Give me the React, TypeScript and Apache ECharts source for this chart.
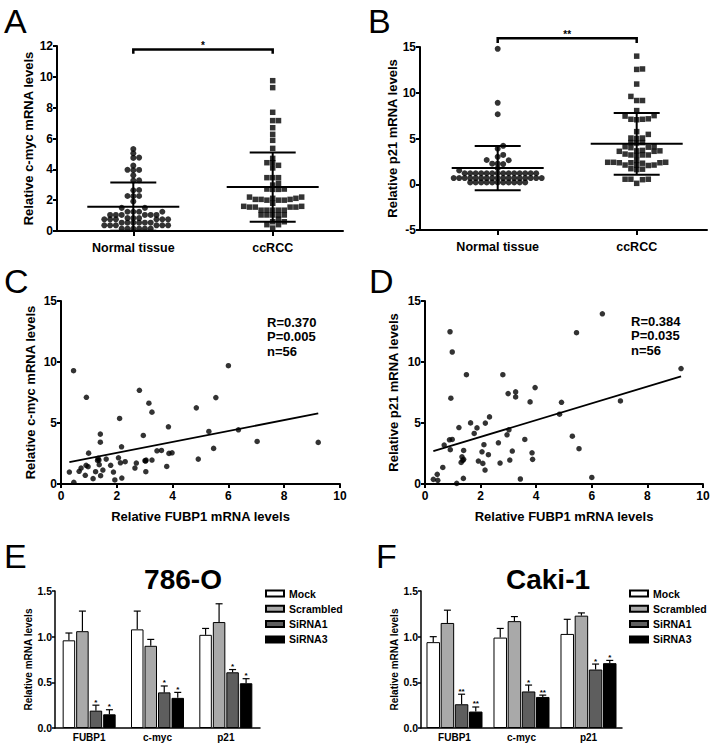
import React, { useEffect, useRef } from "react";
import * as echarts from "echarts";

const FONT = "'Liberation Sans', Arial, Helvetica, sans-serif";

// ---------- Panels A / B : scatter dot plots ----------
const groupNames = ["Normal tissue", "ccRCC"];

const cmycNormal = [5.32, 5.04, 4.76, 4.74, 4.24, 3.96, 3.94, 3.97, 3.61, 3.29, 3.27, 2.66, 2.64, 2.27, 2.27, 2.26, 1.92, 1.5, 1.5, 1.25, 1.25, 1.25, 1.25, 1.04, 1.04, 1.04, 1.04, 1.04, 1.04, 0.84, 0.84, 0.84, 0.76, 0.76, 0.76, 0.76, 0.76, 0.76, 0.54, 0.54, 0.54, 0.54, 0.54, 0.54, 0.37, 0.37, 0.37, 0.37, 0.37, 0.37, 0.15, 0.15, 0.15, 0.15, 0.15, 0.15];
const cmycCcrcc = [9.75, 9.3, 7.7, 7.16, 7.16, 6.7, 6.27, 5.88, 5.36, 4.71, 4.43, 4.43, 4.26, 4.09, 3.46, 3.46, 3.46, 3.09, 2.98, 2.72, 2.7, 2.7, 2.72, 2.2, 2.12, 2.05, 2.0, 2.0, 2.0, 2.05, 2.05, 2.12, 2.2, 1.6, 1.55, 1.55, 1.6, 1.55, 1.55, 1.35, 1.35, 1.35, 1.35, 1.35, 1.04, 1.04, 1.04, 1.04, 1.04, 0.76, 0.6, 0.6, 0.41, 0.41, 0.19, 1.8];
const cmycMean = [1.58, 2.85];
const cmycSD = [1.56, 2.25];
const cmycSig = "*";

const p21Normal = [14.8, 8.9, 7.65, 4.2, 3.88, 3.2, 3.0, 2.65, 2.62, 2.25, 2.25, 2.2, 1.75, 1.5, 1.2, 1.2, 1.2, 1.2, 1.2, 1.2, 1.2, 1.2, 1.2, 1.2, 1.2, 1.2, 1.2, 1.2, 0.68, 0.68, 0.68, 0.68, 0.68, 0.68, 0.68, 0.68, 0.68, 0.68, 0.68, 0.68, 0.68, 0.68, 0.68, 0.68, 0.68, 0.2, 0.2, 0.2, 0.2, 0.2, 0.2, 0.2, 0.2, 0.2, 0.2, 0.2];
const p21Ccrcc = [14.0, 12.6, 12.55, 10.95, 9.6, 9.15, 9.15, 8.05, 7.5, 7.45, 7.1, 7.05, 7.1, 7.15, 5.75, 5.45, 5.05, 5.0, 5.05, 4.55, 4.5, 4.55, 4.1, 4.0, 4.1, 4.05, 3.65, 3.6, 3.6, 3.65, 3.7, 3.2, 3.2, 3.15, 3.2, 3.3, 2.6, 2.4, 2.35, 2.35, 2.3, 2.35, 2.4, 2.4, 2.1, 2.05, 2.1, 2.1, 1.7, 1.65, 1.6, 0.55, 0.5, 0.1, 0.55, 0.55];
const p21Mean = [1.77, 4.42];
const p21SD = [2.42, 3.37];
const p21Sig = "**";

// ---------- Panels C / D : correlations ----------
const fubp1C = [0.30, 0.46, 0.45, 0.65, 0.72, 0.87, 0.91, 0.90, 0.97, 0.99, 1.15, 1.24, 1.31, 1.36, 1.37, 1.42, 1.41, 1.41, 1.50, 1.62, 1.78, 1.88, 1.93, 2.06, 2.10, 2.13, 2.17, 2.18, 2.30, 2.65, 2.70, 2.81, 2.95, 3.01, 3.05, 3.04, 3.15, 3.26, 3.26, 3.44, 3.60, 3.79, 3.85, 3.87, 3.98, 4.85, 4.92, 5.30, 5.47, 5.55, 6.00, 6.36, 7.03, 9.22, 1.33, 3.03];
const cmycC = [0.98, 0.14, 9.29, 1.04, 1.31, 0.71, 7.11, 1.53, 1.42, 2.53, 0.44, 1.01, 1.93, 1.96, 1.58, 0.68, 4.09, 3.43, 1.14, 2.04, 1.53, 0.98, 0.33, 2.15, 5.37, 1.74, 3.05, 0.49, 1.83, 1.31, 1.72, 7.68, 3.98, 1.91, 1.96, 1.01, 6.62, 5.89, 1.96, 2.72, 2.75, 1.44, 4.69, 2.51, 2.56, 6.24, 2.04, 4.31, 2.92, 7.08, 9.70, 4.44, 3.49, 3.41, 2.10, 1.88];
const fitCSlope = 0.449;
const fitCIntercept = 1.65;
const statsC = ["R=0.370", "P=0.005", "n=56"];

const fubp1D = [0.30, 0.44, 0.46, 0.64, 0.69, 0.88, 0.98, 0.91, 0.90, 0.98, 0.93, 1.14, 1.22, 1.30, 1.33, 1.36, 1.39, 1.39, 1.38, 1.49, 1.64, 1.77, 1.87, 1.92, 2.05, 2.08, 2.12, 2.17, 2.16, 2.28, 2.32, 2.64, 2.70, 2.80, 2.95, 2.99, 3.02, 3.05, 3.14, 3.26, 3.26, 3.43, 3.59, 3.78, 3.85, 3.87, 3.96, 4.84, 4.91, 5.30, 5.45, 5.54, 6.00, 6.38, 7.03, 9.21];
const p21D = [0.38, 0.79, 0.30, 1.36, 3.19, 3.62, 3.65, 2.81, 12.48, 10.82, 7.03, 0.05, 4.63, 1.77, 2.23, 1.93, 2.75, 2.02, 0.46, 8.96, 5.01, 4.14, 4.60, 1.88, 2.64, 1.69, 3.22, 4.99, 1.14, 2.40, 5.50, 3.38, 1.72, 8.96, 4.03, 7.41, 4.44, 1.96, 2.70, 7.55, 7.14, 0.41, 3.65, 6.73, 2.56, 2.02, 7.90, 5.72, 6.70, 3.92, 12.40, 2.89, 0.54, 13.95, 6.81, 9.46];
const fitDSlope = 0.6875;
const fitDIntercept = 2.49;
const statsD = ["R=0.384", "P=0.035", "n=56"];

// ---------- Panels E / F : bar charts ----------
const barCategories = ["FUBP1", "c-myc", "p21"];
const barGroups = ["Mock", "Scrambled", "SiRNA1", "SiRNA3"];

const e786Mock = [0.96, 1.08, 1.02];
const e786Scrambled = [1.06, 0.90, 1.16];
const e786SiRNA1 = [0.19, 0.39, 0.61];
const e786SiRNA3 = [0.15, 0.33, 0.49];
const e786MockSD = [0.08, 0.20, 0.07];
const e786ScrambledSD = [0.22, 0.07, 0.20];
const e786SiRNA1SD = [0.06, 0.07, 0.03];
const e786SiRNA3SD = [0.05, 0.06, 0.05];
const e786Stars = [["", "", ""], ["", "", ""], ["*", "*", "*"], ["*", "*", "*"]];

const cakiMock = [0.94, 0.99, 1.03];
const cakiScrambled = [1.15, 1.17, 1.23];
const cakiSiRNA1 = [0.26, 0.40, 0.64];
const cakiSiRNA3 = [0.18, 0.34, 0.71];
const cakiMockSD = [0.06, 0.10, 0.16];
const cakiScrambledSD = [0.14, 0.05, 0.03];
const cakiSiRNA1SD = [0.11, 0.07, 0.06];
const cakiSiRNA3SD = [0.05, 0.02, 0.03];
const cakiStars = [["", "", ""], ["", "", ""], ["**", "*", "*"], ["**", "**", "*"]];

const barColors = ["#ffffff", "#a9a9a9", "#5e5e5e", "#000000"];

// ---------- helpers ----------
function swarm(values: number[], center: number, pxX: number, pxY: number, step: number, rowH: number) {
  const order = values.map((_, i) => i).sort((a, b) => values[a] - values[b]);
  const placed: { x: number; y: number }[] = [];
  const out: number[][] = new Array(values.length);
  for (const i of order) {
    const y = values[i] * pxY;
    let off = 0;
    for (let k = 0; k < 400; k++) {
      const cand = k === 0 ? 0 : (k % 2 === 1 ? 1 : -1) * Math.ceil(k / 2) * (step / 2);
      const clash = placed.some((p) => Math.abs(p.y - y) < rowH && Math.abs(p.x - cand) < step - 0.01);
      if (!clash) {
        off = cand;
        break;
      }
    }
    placed.push({ x: off, y });
    out[i] = [center + off / pxX, values[i]];
  }
  return out;
}

function axis(o: any) {
  const lw = o.lineW || 2;
  return {
    gridIndex: o.grid,
    type: o.type || "value",
    min: o.min,
    max: o.max,
    interval: o.interval,
    data: o.data,
    name: o.name,
    nameLocation: "middle",
    nameGap: o.nameGap,
    nameRotate: o.nameRotate,
    nameTextStyle: { color: "#000", fontWeight: "bold", fontSize: o.nameSize || 13, fontFamily: FONT },
    axisLine: { show: true, onZero: false, lineStyle: { color: "#000", width: lw } },
    axisTick: {
      show: o.tick !== false,
      length: o.tickLen || 4,
      alignWithLabel: true,
      customValues: o.custom,
      lineStyle: { color: "#000", width: lw },
    },
    axisLabel: {
      show: true,
      color: "#000",
      fontWeight: "bold",
      fontSize: o.labelSize || 12,
      fontFamily: FONT,
      margin: o.margin ?? 5,
      customValues: o.custom,
      formatter: o.formatter,
    },
    splitLine: { show: false },
  };
}

function meanSdSeries(ax: number, means: number[], sds: number[]) {
  return {
    type: "custom",
    xAxisIndex: ax,
    yAxisIndex: ax,
    z: 4,
    clip: false,
    silent: true,
    data: means.map((m, i) => [i + 1, m, sds[i]]),
    renderItem: (_p: any, api: any) => {
      const x = api.value(0), m = api.value(1), s = api.value(2);
      const c = api.coord([x, m]), t = api.coord([x, m + s]), b = api.coord([x, m - s]);
      const st = { stroke: "#000", lineWidth: 2 };
      return {
        type: "group",
        children: [
          { type: "line", shape: { x1: c[0] - 46, y1: c[1], x2: c[0] + 46, y2: c[1] }, style: st },
          { type: "line", shape: { x1: t[0] - 23, y1: t[1], x2: t[0] + 23, y2: t[1] }, style: st },
          { type: "line", shape: { x1: b[0] - 23, y1: b[1], x2: b[0] + 23, y2: b[1] }, style: st },
          { type: "line", shape: { x1: t[0], y1: t[1], x2: b[0], y2: b[1] }, style: st },
        ],
      };
    },
  };
}

function bracketSeries(ax: number, top: number, tick: number, sig: string) {
  return {
    type: "custom",
    xAxisIndex: ax,
    yAxisIndex: ax,
    z: 4,
    clip: false,
    silent: true,
    data: [[1, top, tick]],
    renderItem: (_p: any, api: any) => {
      const a = api.coord([1, api.value(1)]);
      const b = api.coord([2, api.value(1)]);
      const t = api.coord([1, api.value(2)]);
      return {
        type: "group",
        children: [
          {
            type: "polyline",
            shape: { points: [[a[0], t[1]], [a[0], a[1]], [b[0], b[1]], [b[0], t[1]]] },
            style: { stroke: "#000", lineWidth: 2.5, fill: null },
          },
          {
            type: "text",
            x: (a[0] + b[0]) / 2,
            y: a[1] + 1,
            style: { text: sig, textAlign: "center", textVerticalAlign: "bottom", font: `bold 10px ${FONT}`, fill: "#000" },
          },
        ],
      };
    },
  };
}

function fitLine(ax: number, xs: number[], slope: number, intercept: number) {
  const x0 = Math.min(...xs), x1 = Math.max(...xs);
  return {
    type: "line",
    xAxisIndex: ax,
    yAxisIndex: ax,
    data: [[x0, intercept + slope * x0], [x1, intercept + slope * x1]],
    symbol: "none",
    showSymbol: false,
    silent: true,
    z: 3,
    lineStyle: { color: "#000", width: 1.8 },
  };
}

function corrScatter(ax: number, xs: number[], ys: number[]) {
  return {
    type: "scatter",
    xAxisIndex: ax,
    yAxisIndex: ax,
    symbol: "circle",
    symbolSize: 5.5,
    silent: true,
    itemStyle: { color: "#000" },
    data: xs.map((x, i) => [x, ys[i]]),
  };
}

function barSeries(ax: number, values: number[][], barWidth: number, barGap: string) {
  return values.map((vals, g) => ({
    type: "bar",
    name: barGroups[g],
    xAxisIndex: ax,
    yAxisIndex: ax,
    data: vals,
    barWidth,
    barGap,
    silent: true,
    itemStyle: { color: barColors[g], borderColor: "#000", borderWidth: 1 },
  }));
}

function errorSeries(ax: number, means: number[][], sds: number[][], stars: string[][], pitch: number) {
  const data: number[][] = [];
  const labels: string[] = [];
  means.forEach((arr, g) =>
    arr.forEach((m, c) => {
      data.push([c, m, sds[g][c], g]);
      labels.push(stars[g][c]);
    })
  );
  return {
    type: "custom",
    xAxisIndex: ax,
    yAxisIndex: ax,
    z: 5,
    clip: false,
    silent: true,
    data,
    renderItem: (params: any, api: any) => {
      const c = api.value(0), m = api.value(1), s = api.value(2), g = api.value(3);
      const off = (g - 1.5) * pitch;
      const b = api.coord([c, m]);
      const t = api.coord([c, m + s]);
      const x = b[0] + off;
      const st = { stroke: "#000", lineWidth: 1.2 };
      const children: any[] = [
        { type: "line", shape: { x1: x, y1: b[1], x2: x, y2: t[1] }, style: st },
        { type: "line", shape: { x1: x - 3.5, y1: t[1], x2: x + 3.5, y2: t[1] }, style: st },
      ];
      const lab = labels[params.dataIndex];
      if (lab) {
        children.push({
          type: "text",
          x,
          y: t[1] + 1,
          style: { text: lab, textAlign: "center", textVerticalAlign: "bottom", font: `bold 8px ${FONT}`, fill: "#000" },
        });
      }
      return { type: "group", children };
    },
  };
}

function txt(text: string, x: number, y: number, font: string, align = "left") {
  return {
    type: "text",
    x,
    y,
    silent: true,
    style: { text, font, fill: "#000", textAlign: align, textVerticalAlign: "middle" },
  };
}

export default function App() {
  const ref = useRef<HTMLDivElement>(null);

  useEffect(() => {
    if (!ref.current) return;
    const chart = echarts.init(ref.current, undefined, { renderer: "svg" });

    // geometry of A / B group axes
    const aMin = 0.4527, aMax = 2.5043, aW = 286, aH = 185;
    const bMin = 0.441, bMax = 2.5058, bW = 287, bH = 183;
    const aPxX = aW / (aMax - aMin), aPxY = aH / 12;
    const bPxX = bW / (bMax - bMin), bPxY = bH / 20;
    const catFmt = (v: number) => groupNames[Math.round(v) - 1] || "";

    const e786Vals = [e786Mock, e786Scrambled, e786SiRNA1, e786SiRNA3];
    const e786SDs = [e786MockSD, e786ScrambledSD, e786SiRNA1SD, e786SiRNA3SD];
    const cakiVals = [cakiMock, cakiScrambled, cakiSiRNA1, cakiSiRNA3];
    const cakiSDs = [cakiMockSD, cakiScrambledSD, cakiSiRNA1SD, cakiSiRNA3SD];

    const legendBase = {
      orient: "vertical",
      itemWidth: 18,
      itemHeight: 6,
      itemGap: 4.3,
      padding: 0,
      selectedMode: false,
      icon: "rect",
      data: barGroups,
      textStyle: { fontSize: 10.5, fontWeight: "bold", fontFamily: FONT, color: "#000" },
    };

    const option: any = {
      animation: false,
      backgroundColor: "#fff",
      textStyle: { fontFamily: FONT },
      grid: [
        { left: 57, top: 46, width: aW, height: aH },
        { left: 420, top: 47, width: bW, height: bH },
        { left: 61, top: 301, width: 279, height: 183 },
        { left: 425, top: 301, width: 278, height: 183 },
        { left: 55, top: 591, width: 205, height: 137 },
        { left: 421, top: 591, width: 201, height: 137 },
      ],
      xAxis: [
        axis({ grid: 0, min: aMin, max: aMax, custom: [1, 2], formatter: catFmt, tickLen: 5, margin: 10, labelSize: 12.5 }),
        axis({ grid: 1, min: bMin, max: bMax, custom: [1, 2], formatter: catFmt, tickLen: 5, margin: 10, labelSize: 12.5 }),
        axis({ grid: 2, min: 0, max: 10, interval: 2, name: "Relative FUBP1 mRNA levels", nameGap: 26, margin: 6 }),
        axis({ grid: 3, min: 0, max: 10, interval: 2, name: "Relative FUBP1 mRNA levels", nameGap: 26, margin: 6 }),
        axis({ grid: 4, type: "category", data: barCategories, tick: false, lineW: 1.5, labelSize: 10, margin: 4 }),
        axis({ grid: 5, type: "category", data: barCategories, tick: false, lineW: 1.5, labelSize: 10, margin: 4 }),
      ],
      yAxis: [
        axis({ grid: 0, min: 0, max: 12, interval: 2, name: "Relative c-myc mRNA levels", nameGap: 22, nameRotate: 90, margin: 4 }),
        axis({ grid: 1, min: -5, max: 15, interval: 5, name: "Relative p21 mRNA levels", nameGap: 21, nameRotate: 90, margin: 4 }),
        axis({ grid: 2, min: 0, max: 15, interval: 5, name: "Relative c-myc mRNA levels", nameGap: 24, nameRotate: 90, margin: 4 }),
        axis({ grid: 3, min: 0, max: 15, interval: 5, name: "Relative p21 mRNA levels", nameGap: 25, nameRotate: 90, margin: 4 }),
        axis({ grid: 4, min: 0, max: 1.5, interval: 0.5, name: "Relative mRNA levels", nameGap: 21, nameRotate: 90, nameSize: 10, lineW: 1.5, tickLen: 3, labelSize: 10.5, margin: 3, formatter: (v: number) => v.toFixed(1) }),
        axis({ grid: 5, min: 0, max: 1.5, interval: 0.5, name: "Relative mRNA levels", nameGap: 21, nameRotate: 90, nameSize: 10, lineW: 1.5, tickLen: 3, labelSize: 10.5, margin: 3, formatter: (v: number) => v.toFixed(1) }),
      ],
      legend: [
        { ...legendBase, left: 265, top: 588 },
        { ...legendBase, left: 629, top: 588 },
      ],
      series: [
        // A
        { type: "scatter", xAxisIndex: 0, yAxisIndex: 0, symbol: "circle", symbolSize: 6, silent: true, itemStyle: { color: "#000" }, data: swarm(cmycNormal, 1, aPxX, aPxY, 5.8, 4.2) },
        { type: "scatter", xAxisIndex: 0, yAxisIndex: 0, symbol: "rect", symbolSize: 5.5, silent: true, itemStyle: { color: "#000" }, data: swarm(cmycCcrcc, 2, aPxX, aPxY, 5.8, 4.2) },
        meanSdSeries(0, cmycMean, cmycSD),
        bracketSeries(0, 11.78, 11.5, cmycSig),
        // B
        { type: "scatter", xAxisIndex: 1, yAxisIndex: 1, symbol: "circle", symbolSize: 6, silent: true, itemStyle: { color: "#000" }, data: swarm(p21Normal, 1, bPxX, bPxY, 5.5, 4.2) },
        { type: "scatter", xAxisIndex: 1, yAxisIndex: 1, symbol: "rect", symbolSize: 5.5, silent: true, itemStyle: { color: "#000" }, data: swarm(p21Ccrcc, 2, bPxX, bPxY, 5.8, 4.2) },
        meanSdSeries(1, p21Mean, p21SD),
        bracketSeries(1, 15.95, 15.45, p21Sig),
        // C
        corrScatter(2, fubp1C, cmycC),
        fitLine(2, fubp1C, fitCSlope, fitCIntercept),
        // D
        corrScatter(3, fubp1D, p21D),
        fitLine(3, fubp1D, fitDSlope, fitDIntercept),
        // E
        ...barSeries(4, e786Vals, 12.5, "8%"),
        errorSeries(4, e786Vals, e786SDs, e786Stars, 13.5),
        // F
        ...barSeries(5, cakiVals, 13.5, "5%"),
        errorSeries(5, cakiVals, cakiSDs, cakiStars, 14.175),
      ],
      graphic: [
        txt("A", 4, 21, `34px ${FONT}`),
        txt("B", 368, 21, `34px ${FONT}`),
        txt("C", 4, 281, `34px ${FONT}`),
        txt("D", 369, 281, `34px ${FONT}`),
        txt("E", 4, 556, `34px ${FONT}`),
        txt("F", 376, 556, `34px ${FONT}`),
        txt(statsC[0], 267, 322, `bold 13px ${FONT}`),
        txt(statsC[1], 267, 336, `bold 13px ${FONT}`),
        txt(statsC[2], 267, 351, `bold 13px ${FONT}`),
        txt(statsD[0], 631, 321, `bold 13px ${FONT}`),
        txt(statsD[1], 631, 335, `bold 13px ${FONT}`),
        txt(statsD[2], 631, 350, `bold 13px ${FONT}`),
        txt("786-O", 183, 579, `bold 28px ${FONT}`, "center"),
        txt("Caki-1", 548, 579, `bold 28px ${FONT}`, "center"),
      ],
    };

    chart.setOption(option);
    return () => chart.dispose();
  }, []);

  return (
    <div
      ref={ref}
      style={{ position: "absolute", left: 0, top: 0, width: 714, height: 749, background: "#fff" }}
    />
  );
}
